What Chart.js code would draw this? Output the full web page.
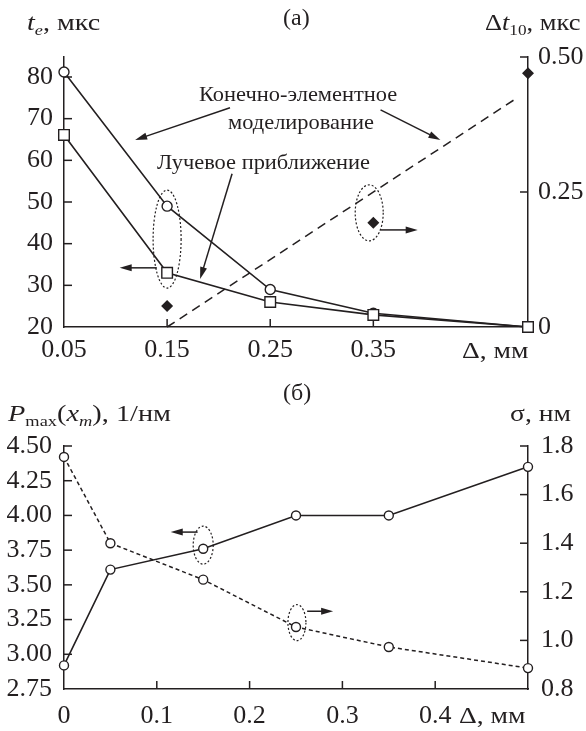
<!DOCTYPE html>
<html><head><meta charset="utf-8">
<script src="https://cdn.jsdelivr.net/npm/chart.js@4/dist/chart.umd.min.js"></script>
<style>
body{margin:0;background:#fff;}
#wrap{position:relative;width:586px;height:731px;background:#fff;overflow:hidden;font-family:'Liberation Serif',serif;color:#231f20;}
canvas{position:absolute;left:0;}
.t{position:absolute;white-space:nowrap;line-height:1;transform-origin:0 0;}
.i{font-style:italic;}
.sub{font-size:65%;position:relative;top:0.35em;}
</style></head><body>
<div id="wrap">
<canvas id="ca" width="586" height="360" style="top:0"></canvas>
<canvas id="cb" width="586" height="371" style="top:360px"></canvas>
<div class="t" style="left:283px;top:5px;font-size:24px">(а)</div>
<div class="t" style="left:27px;top:10px;font-size:24px;transform:scaleX(1.17)"><span class="i">t<span class="sub">e</span></span>, мкс</div>
<div class="t" style="left:485px;top:11px;font-size:23px;transform:scaleX(1.15)">Δ<span class="i">t</span><span class="sub">10</span>, мкс</div>
<div class="t" style="left:199px;top:83px;font-size:22px;transform:scaleX(1.02)">Конечно-элементное</div>
<div class="t" style="left:228px;top:111px;font-size:22px;transform:scaleX(1.02)">моделирование</div>
<div class="t" style="left:157px;top:151px;font-size:22px;transform:scaleX(1.02)">Лучевое приближение</div>
<div class="t" style="left:462px;top:338px;font-size:24px;transform:scaleX(1.15)">Δ, мм</div>
<div class="t" style="left:283px;top:380px;font-size:24px">(б)</div>
<div class="t" style="left:8px;top:401px;font-size:24px;transform:scaleX(1.18)"><span class="i">P</span><span class="sub">max</span>(<span class="i">x<span class="sub">m</span></span>), 1/нм</div>
<div class="t" style="left:510px;top:402px;font-size:23px;transform:scaleX(1.2)">σ, нм</div>
<div class="t" style="left:459px;top:703px;font-size:24px;transform:scaleX(1.15)">Δ, мм</div>
</div>
<script>
// ---------- DATA ----------
// Panel (а)
const xA = [0.05, 0.15, 0.25, 0.35, 0.5];
const feModel = [81.2, 49.0, 29.0, 23.3, 20.0];      // Конечно-элементное моделирование, t_e (мкс)
const rayApprox = [66.1, 33.0, 26.0, 22.9, 20.0];    // Лучевое приближение, t_e (мкс)
const dtX = [0.15, 0.35, 0.5];
const dtVals = [0.039, 0.193, 0.47];                 // Δt10 (мкс)
const dtFitX = [0.15, 0.49];
const dtFitY = [0.0, 0.425];                          // dashed trend line
const xTicksA = [0.05, 0.15, 0.25, 0.35];
const yLeftTicksA = [20, 30, 40, 50, 60, 70, 80];
const yRightTicksA = [0, 0.25, 0.5];
// Panel (б)
const xB = [0, 0.05, 0.15, 0.25, 0.35, 0.5];
const pMax = [2.92, 3.61, 3.76, 4.0, 4.0, 4.35];     // P_max(x_m), 1/нм
const sigma = [1.755, 1.40, 1.25, 1.055, 0.973, 0.886]; // σ, нм
const xTicksB = [0, 0.1, 0.2, 0.3, 0.4];
const yLeftTicksB = [2.75, 3.0, 3.25, 3.5, 3.75, 4.0, 4.25, 4.5];
const yRightTicksB = [0.8, 1.0, 1.2, 1.4, 1.6, 1.8];

const INK = '#231f20';
const TICKFONT = {family: "'Liberation Serif', serif", size: 26};
const TL = 8;

function pts(xs, ys) { return xs.map((x, i) => ({x, y: ys[i]})); }

function arrow(ctx, x1, y1, x2, y2) {
  const a = Math.atan2(y2 - y1, x2 - x1), L = 12, W = 3.5;
  ctx.setLineDash([]);
  ctx.beginPath(); ctx.moveTo(x1, y1);
  ctx.lineTo(x2 - Math.cos(a) * L * 0.8, y2 - Math.sin(a) * L * 0.8); ctx.stroke();
  ctx.beginPath();
  ctx.moveTo(x2, y2);
  ctx.lineTo(x2 - Math.cos(a) * L - Math.sin(a) * W, y2 - Math.sin(a) * L + Math.cos(a) * W);
  ctx.lineTo(x2 - Math.cos(a) * L + Math.sin(a) * W, y2 - Math.sin(a) * L - Math.cos(a) * W);
  ctx.closePath(); ctx.fill();
}

const decor = {
  id: 'decor',
  beforeDatasetsDraw(chart) {
    const ctx = chart.ctx, ca = chart.chartArea;
    ctx.save();
    ctx.strokeStyle = INK; ctx.lineWidth = 1.5;
    ['x', 'yL', 'yR'].forEach(id => {
      const s = chart.scales[id];
      s.ticks.forEach(t => {
        if (t.value === s.min) return;
        const p = s.getPixelForValue(t.value);
        ctx.beginPath();
        if (id === 'x') { ctx.moveTo(p, ca.bottom); ctx.lineTo(p, ca.bottom - TL); }
        else if (id === 'yL') { ctx.moveTo(ca.left, p); ctx.lineTo(ca.left + TL, p); }
        else { ctx.moveTo(ca.right, p); ctx.lineTo(ca.right - TL, p); }
        ctx.stroke();
      });
    });
    ctx.restore();
  },
  afterDatasetsDraw(chart, args, opts) {
    const ctx = chart.ctx, sx = chart.scales.x, sy = chart.scales.yL;
    ctx.save();
    ctx.strokeStyle = INK; ctx.fillStyle = INK;
    (opts.ellipses || []).forEach(e => {
      ctx.lineWidth = 1.2; ctx.setLineDash([2, 2]);
      ctx.beginPath();
      ctx.ellipse(sx.getPixelForValue(e[0]), sy.getPixelForValue(e[1]), e[2], e[3], 0, 0, Math.PI * 2);
      ctx.stroke();
    });
    ctx.lineWidth = 1.5;
    (opts.arrows || []).forEach(a => {
      arrow(ctx, sx.getPixelForValue(a[0]), sy.getPixelForValue(a[1]),
                 sx.getPixelForValue(a[2]), sy.getPixelForValue(a[3]));
    });
    ctx.restore();
  }
};

function yScale(pos, min, max, ticks, fmt, width, pad) {
  return {
    type: 'linear', position: pos, min, max,
    afterBuildTicks: s => { s.ticks = ticks.map(v => ({value: v})); },
    afterFit: s => { s.width = width; },
    grid: {display: false, drawTicks: false},
    border: {display: true, color: INK, width: 1.5},
    ticks: {color: INK, font: TICKFONT, padding: pad, callback: fmt}
  };
}
function xScale(min, max, ticks, fmt, height, pad) {
  return {
    type: 'linear', position: 'bottom', min, max,
    afterBuildTicks: s => { s.ticks = ticks.map(v => ({value: v})); },
    afterFit: s => { s.height = height; },
    grid: {display: false, drawTicks: false},
    border: {display: true, color: INK, width: 1.5},
    ticks: {color: INK, font: TICKFONT, padding: pad, maxRotation: 0, autoSkip: false, callback: fmt}
  };
}
const common = {
  responsive: false, animation: false,
  plugins: {legend: {display: false}, tooltip: {enabled: false}},
};
function lineDs(data, axis, extra) {
  return Object.assign({data, yAxisID: axis, borderColor: INK, borderWidth: 1.6, tension: 0,
    pointBackgroundColor: '#fff', pointBorderColor: INK, pointBorderWidth: 1.4, clip: false}, extra);
}

new Chart(document.getElementById('ca'), {
  type: 'line',
  data: {datasets: [
    lineDs(pts(xA, rayApprox), 'yL', {label: 'Лучевое приближение', pointStyle: 'rect', pointRadius: 7.5}),
    lineDs(pts(xA, feModel), 'yL', {label: 'Конечно-элементное моделирование', pointStyle: 'circle', pointRadius: 5}),
    lineDs(pts(dtX, dtVals), 'yR', {label: 'Δt10', showLine: false, pointStyle: 'rectRot', pointRadius: 5, pointBackgroundColor: INK}),
    lineDs(pts(dtFitX, dtFitY), 'yR', {label: 'Δt10 тренд', borderDash: [9, 6], borderWidth: 1.5, pointRadius: 0})
  ]},
  options: Object.assign({}, common, {
    layout: {padding: {top: 57, left: 0, right: 0, bottom: 0}},
    scales: {
      x: xScale(0.05, 0.5, xTicksA, v => v.toFixed(2), 33, 8),
      yL: yScale('left', 20, 84.8, yLeftTicksA, v => String(v), 64, 11),
      yR: yScale('right', 0, 0.5, yRightTicksA, v => v === 0 ? '0' : v.toFixed(2), 58, 10)
    },
    plugins: Object.assign({}, common.plugins, {decor: {
      ellipses: [[0.15, 41.1, 14, 49], [0.346, 47.4, 14, 28]],
      arrows: [[0.211, 72.6, 0.119, 64.9], [0.357, 72.1, 0.415, 64.9], [0.213, 56.8, 0.182, 31.5],
               [0.140, 34.2, 0.104, 34.2], [0.357, 43.3, 0.393, 43.3]]
    }})
  }),
  plugins: [decor]
});

new Chart(document.getElementById('cb'), {
  type: 'line',
  data: {datasets: [
    lineDs(pts(xB, pMax), 'yL', {label: 'P_max(x_m)', pointStyle: 'circle', pointRadius: 4.5}),
    lineDs(pts(xB, sigma), 'yR', {label: 'σ', pointStyle: 'circle', pointRadius: 4.5, borderDash: [4, 3], borderWidth: 1.5})
  ]},
  options: Object.assign({}, common, {
    layout: {padding: {top: 86, left: 0, right: 0, bottom: 0}},
    scales: {
      x: xScale(0, 0.5, xTicksB, v => v === 0 ? '0' : v.toFixed(1), 42, 12),
      yL: yScale('left', 2.75, 4.5, yLeftTicksB, v => v.toFixed(2), 64, 12),
      yR: yScale('right', 0.8, 1.8, yRightTicksB, v => v.toFixed(1), 58, 13)
    },
    plugins: Object.assign({}, common.plugins, {decor: {
      ellipses: [[0.15, 3.786, 10, 19], [0.251, 3.228, 9, 18]],
      arrows: [[0.144, 3.88, 0.115, 3.88], [0.262, 3.31, 0.290, 3.31]]
    }})
  }),
  plugins: [decor]
});
</script>
</body></html>
